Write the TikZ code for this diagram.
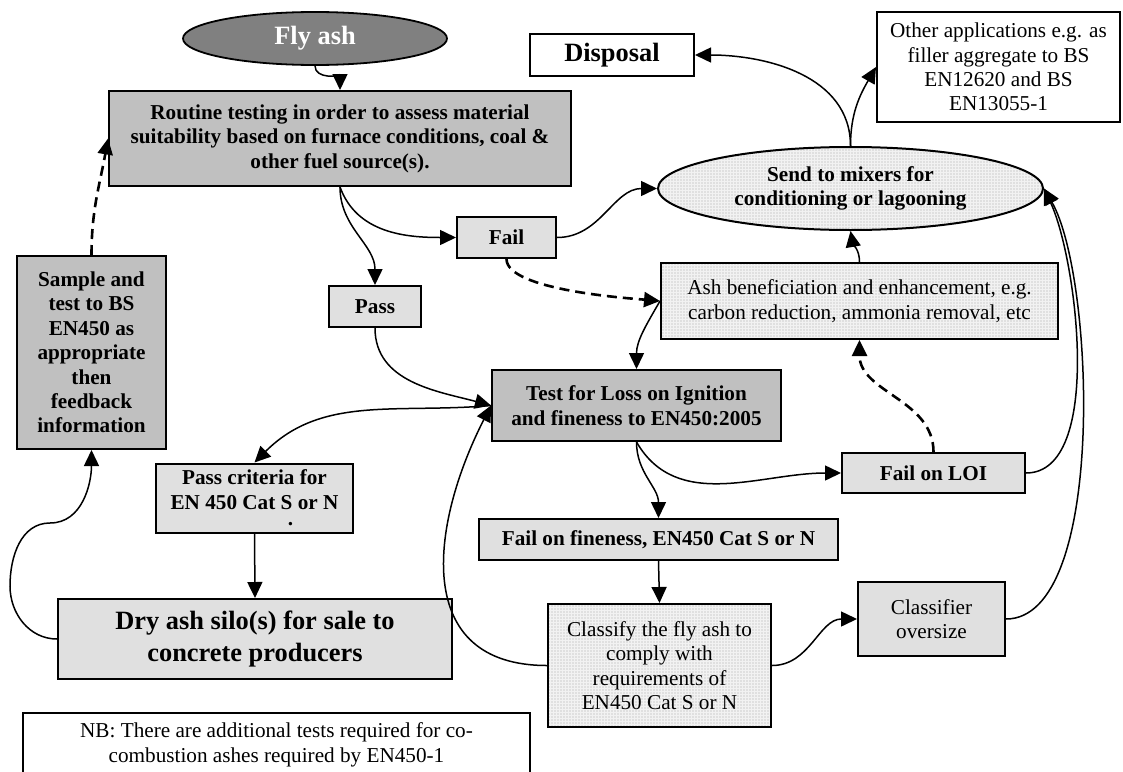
\documentclass[tikz,border=0pt]{standalone}
\usepackage{fontspec}
\setmainfont{Liberation Serif}
\usetikzlibrary{positioning,arrows.meta,shapes.geometric,patterns.meta}

\definecolor{flyGray}{HTML}{808080}
\definecolor{darkBox}{HTML}{C0C0C0}
\definecolor{lightBox}{HTML}{E0E0E0}
\definecolor{dotBack}{HTML}{F2F2F2}

\newcommand{\boxfont}{\fontsize{10.6}{12.2}\selectfont}
\newcommand{\bigboxfont}{\fontsize{13.2}{15.8}\selectfont}

\tikzset{
 box/.style={draw, line width=1pt, align=center, inner sep=0pt, font=\boxfont\bfseries},
 darkbox/.style={box, fill=darkBox},
 lightbox/.style={box, fill=lightBox},
 dotbox/.style={box, font=\boxfont, preaction={fill=dotBack}, pattern={Dots[distance=1.5pt,radius=0.3pt]}, pattern color=black!35},
 plainbox/.style={box, fill=white},
 arrowLine/.style={line width=0.75pt, -{Triangle[length=8pt,width=7.5pt]}},
 dashArrow/.style={arrowLine, line width=1.3pt, dash pattern=on 5pt off 3pt}
}

\begin{document}
\begin{tikzpicture}[x=0.5pt,y=0.5pt]
 \clip (0,0) rectangle (1123,-771);

 %Coordinates
 \coordinate (dryLoopLow) at (10,-586);
 \coordinate (dryLoopHigh) at (50,-523);

 %Names
 \node (flyAsh) [ellipse, draw, line width=0.9pt, fill=flyGray, text=white, inner sep=0pt, font=\bigboxfont\bfseries, minimum width=132pt, minimum height=26.5pt] at (315,-38.5) {Fly ash};
 \node (routine) [darkbox, minimum width=231pt, minimum height=47.5pt] at (340,-138.5) {Routine testing in order to assess material\\suitability based on furnace conditions, coal \&\\other fuel source(s).};
 \node (disposal) [plainbox, font=\bigboxfont\bfseries, minimum width=82pt, minimum height=21pt] at (612,-55) {Disposal};
 \node (otherApps) [plainbox, font=\boxfont, minimum width=121.5pt, minimum height=55pt] at (998.5,-67) {Other applications e.g. as\\filler aggregate to BS\\EN12620 and BS\\EN13055-1};
 \node (sendMixers) [ellipse, dotbox, font=\boxfont\bfseries, minimum width=192.5pt, minimum height=41.5pt] at (850.5,-188.5) {Send to mixers for\\conditioning or lagooning};
 \node (fail) [lightbox, minimum width=49.5pt, minimum height=20.5pt] at (506.5,-237.5) {Fail};
 \node (pass) [lightbox, minimum width=46pt, minimum height=20.5pt] at (375,-306.5) {Pass};
 \node (ashBenef) [dotbox, minimum width=198.5pt, minimum height=38pt] at (859.5,-301) {Ash beneficiation and enhancement, e.g.\\carbon reduction, ammonia removal, etc};
 \node (sample) [darkbox, minimum width=74.5pt, minimum height=96.5pt] at (91.5,-352.5) {Sample and\\test to BS\\EN450 as\\appropriate\\then\\feedback\\information};
 \node (testLOI) [darkbox, minimum width=144.5pt, minimum height=35.5pt] at (636.5,-405.5) {Test for Loss on Ignition\\and fineness to EN450:2005};
 \node (passCriteria) [lightbox, minimum width=98.5pt, minimum height=34.5pt] at (254.5,-498) {Pass criteria for\\EN 450 Cat S or N\\[-4pt]\hspace*{36pt}.};
 \node (failLOI) [lightbox, minimum width=91.5pt, minimum height=20pt] at (933.5,-473) {Fail on LOI};
 \node (failFine) [lightbox, minimum width=179.5pt, minimum height=20.5pt] at (658.5,-539.5) {Fail on fineness, EN450 Cat S or N};
 \node (dryAsh) [lightbox, font=\bigboxfont\bfseries, minimum width=197pt, minimum height=40pt] at (255,-639) {Dry ash silo(s) for sale to\\concrete producers};
 \node (classify) [dotbox, minimum width=111.5pt, minimum height=61.5pt] at (659.5,-665.5) {Classify the fly ash to\\comply with\\requirements of\\EN450 Cat S or N};
 \node (oversize) [lightbox, font=\boxfont, minimum width=73.5pt, minimum height=37pt] at (931.5,-619) {Classifier\\oversize};
 \node (nbNote) [plainbox, font=\boxfont, anchor=north, minimum width=253.5pt, minimum height=32pt] at (276.5,-712) {NB: There are additional tests required for co-\\combustion ashes required by EN450-1};

 %Arrows
 \draw[arrowLine] (flyAsh.south) to[out=-90,in=90] (routine.north);
 \draw[arrowLine] (routine.south) to[out=-90,in=90] (pass.north);
 \draw[arrowLine] (routine.south) to[out=-70,in=180] (fail.west);
 \draw[arrowLine] (fail.east) to[out=0,in=180] (sendMixers.west);
 \draw[dashArrow] (fail.south) to[out=-90,in=175,looseness=0.5] (ashBenef.west);
 \draw[arrowLine] (ashBenef.west) to[out=240,in=90] (testLOI.north);
 \draw[arrowLine] (pass.south) to[out=-90,in=165] (testLOI.west);
 \draw[arrowLine] (testLOI.west) to[out=185,in=45] (passCriteria.north);
 \draw[arrowLine] (classify.west) to[out=180,in=243,looseness=1.3] (testLOI.west);
 \draw[arrowLine] (dryAsh.west) to[out=180,in=-90] (dryLoopLow) to[out=90,in=180] (dryLoopHigh) to[out=0,in=-90] (sample.south);
 \draw[dashArrow] (sample.north) to[out=90,in=-100] (routine.west);

 \foreach \from/\to in {passCriteria/dryAsh, failFine/classify}
  \draw[arrowLine] (\from.south) -- (\to.north);

 \draw[arrowLine] (testLOI.south) to[out=-90,in=90] (failFine.north);
 \draw[arrowLine] (testLOI.south) to[out=-60,in=180] (failLOI.west);
 \draw[arrowLine] (classify.east) to[out=0,in=180] (oversize.west);
 \draw[arrowLine] (oversize.east) to[out=0,in=-60,looseness=0.6] (sendMixers.east);
 \draw[arrowLine] (failLOI.east) to[out=0,in=-65,looseness=0.7] (sendMixers.east);
 \draw[dashArrow] (failLOI.north) to[out=90,in=-90] (ashBenef.south);

 \draw[arrowLine] (ashBenef.north) to[out=90,in=-80] (sendMixers.south);
 \draw[arrowLine] (sendMixers.north) to[out=90,in=0] (disposal.east);
 \draw[arrowLine] (sendMixers.north) to[out=90,in=240] (otherApps.west);

\end{tikzpicture}
\end{document}
